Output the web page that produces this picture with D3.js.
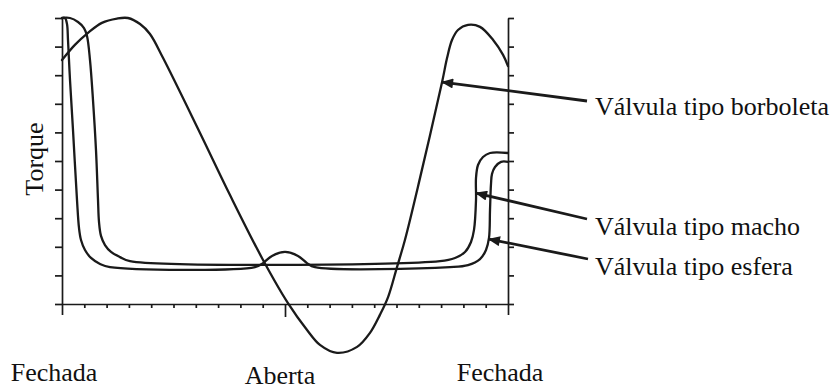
<!DOCTYPE html>
<html>
<head>
<meta charset="utf-8">
<script src="https://cdn.jsdelivr.net/npm/d3@7"></script>
<style>
  html, body { margin: 0; padding: 0; background: #fff; }
  svg { display: block; }
  text { font-family: "Liberation Serif", "Times New Roman", serif; fill: #111; }
</style>
</head>
<body>
<svg id="chart" width="838" height="390"></svg>
<script>
// Valve position: 0 = closed, 90 = fully open, 180 = closed again
const positionTicks = d3.range(0, 181, 9);
const positionLabels = ["Fechada", "Aberta", "Fechada"];
const positionLabelAngles = [0, 90, 180];
const torqueTicks = d3.range(0, 11, 1);

const seriesNames = ["Válvula tipo borboleta", "Válvula tipo macho", "Válvula tipo esfera"];

// Butterfly valve torque
const borboletaAngle  = [0, 5.2, 10.5, 16.1, 22.2, 26.6, 31.5, 35.5, 40.8, 55.7, 67.8, 80.7, 91.2, 98.9, 104.1, 111.0, 119.1, 124.3, 128.3, 131.6, 135.2, 138.4, 144.5, 153.4, 155.4, 157.4, 159.8, 163.9, 168.7, 174.0, 178.0, 180];
const borboletaTorque = [8.53, 9.06, 9.48, 9.83, 9.98, 10.0, 9.79, 9.44, 8.60, 5.98, 3.81, 1.61, 0.03, -0.91, -1.43, -1.71, -1.50, -1.01, -0.38, 0.24, 1.29, 2.24, 4.41, 7.76, 8.60, 9.23, 9.58, 9.76, 9.69, 9.23, 8.71, 8.32];

// Plug valve torque
const machoAngle  = [0, 3.23, 6.46, 8.88, 10.09, 11.30, 12.51, 13.72, 14.53, 14.93, 15.74, 17.35, 19.78, 23.41, 27.44, 152.56, 158.61, 162.65, 165.07, 166.28, 167.09, 167.09, 167.90, 169.91, 172.74, 180];
const machoTorque = [10.0, 10.0, 9.86, 9.65, 9.37, 8.53, 7.13, 5.38, 3.64, 2.87, 2.38, 2.06, 1.82, 1.64, 1.50, 1.50, 1.61, 1.82, 2.17, 2.59, 3.64, 4.41, 4.86, 5.14, 5.28, 5.28];

// Ball valve torque
const esferaAngle  = [0, 1.21, 2.02, 2.42, 3.23, 4.44, 6.05, 6.86, 7.67, 9.28, 11.70, 15.34, 19.37, 77.89, 81.12, 84.75, 90.0, 95.25, 98.88, 102.11, 156.59, 163.86, 168.70, 171.12, 172.33, 172.74, 173.14, 173.55, 174.76, 177.18, 180];
const esferaTorque = [10.0, 10.0, 9.79, 9.23, 7.83, 6.08, 3.64, 2.66, 2.24, 1.89, 1.61, 1.40, 1.29, 1.29, 1.43, 1.68, 1.82, 1.68, 1.43, 1.29, 1.29, 1.36, 1.57, 1.89, 2.31, 3.29, 4.20, 4.55, 4.79, 4.97, 4.97];

// Points on each curve where the callout arrows land
const calloutAngle  = [153.4, 167.1, 172.3];
const calloutTorque = [7.76, 3.88, 2.27];

const svg = d3.select("#chart");
const ink = "#1a1a1a";

const x = d3.scaleLinear().domain([0, 180]).range([62, 508]);
const y = d3.scaleLinear().domain([0, 10]).range([304, 18]);

// Arrowhead marker
svg.append("defs").append("marker")
  .attr("id", "arrow")
  .attr("viewBox", "0 0 12 10")
  .attr("refX", 11).attr("refY", 5)
  .attr("markerWidth", 14).attr("markerHeight", 10)
  .attr("markerUnits", "userSpaceOnUse")
  .attr("orient", "auto")
  .append("path").attr("d", "M0,0 L12,5 L0,10 Z").attr("fill", ink);

function styleAxis(g) {
  g.selectAll("path.domain").attr("stroke", ink).attr("stroke-width", 1.7);
  g.selectAll(".tick line").attr("stroke", ink).attr("stroke-width", 1.7);
  g.selectAll(".tick text").remove();
}

// Bottom axis, ticks pointing down; the ends and the centre run longer
const gx = svg.append("g").attr("transform", `translate(0,${y(0)})`)
  .call(d3.axisBottom(x).tickValues(positionTicks).tickSize(4).tickSizeOuter(0).tickFormat(""));
gx.selectAll(".tick line").attr("y2", d => (d === 0 || d === 180) ? 11 : (d === 90 ? 13 : 4));
styleAxis(gx);

// Left axis
const gl = svg.append("g").attr("transform", `translate(${x(0)},0)`)
  .call(d3.axisLeft(y).tickValues(torqueTicks).tickSize(7).tickSizeOuter(0).tickFormat(""));
styleAxis(gl);

// Right axis
const gr = svg.append("g").attr("transform", `translate(${x(180)},0)`)
  .call(d3.axisRight(y).tickValues(torqueTicks).tickSize(6).tickSizeOuter(0).tickFormat(""));
styleAxis(gr);

// Curves
const smooth = d3.line()
  .x(d => x(d[0])).y(d => y(d[1]))
  .curve(d3.curveCatmullRom.alpha(0.5));

const curves = [
  d3.zip(borboletaAngle, borboletaTorque),
  d3.zip(machoAngle, machoTorque),
  d3.zip(esferaAngle, esferaTorque)
];

svg.append("g").selectAll("path")
  .data(curves)
  .join("path")
  .attr("d", smooth)
  .attr("fill", "none")
  .attr("stroke", ink)
  .attr("stroke-width", 2.3)
  .attr("stroke-linejoin", "round")
  .attr("stroke-linecap", "round");

// Callouts
const labelX = 595;
const labelBaseline = [115, 235, 275];
const tailPoint = [[587, 101], [587, 219], [588, 259]];

const callouts = svg.append("g");
seriesNames.forEach((name, i) => {
  callouts.append("line")
    .attr("x1", tailPoint[i][0]).attr("y1", tailPoint[i][1])
    .attr("x2", x(calloutAngle[i])).attr("y2", y(calloutTorque[i]))
    .attr("stroke", ink).attr("stroke-width", 2.8)
    .attr("marker-end", "url(#arrow)");
  callouts.append("text")
    .attr("x", labelX).attr("y", labelBaseline[i])
    .attr("font-size", 26)
    .text(name);
});

// Position labels under the axis
const posOffset = [-8, -5, -8];
const posBaseline = [381, 384, 381];
svg.append("g").selectAll("text")
  .data(positionLabels)
  .join("text")
  .attr("x", (d, i) => x(positionLabelAngles[i]) + posOffset[i])
  .attr("y", (d, i) => posBaseline[i])
  .attr("text-anchor", "middle")
  .attr("font-size", 26)
  .text(d => d);

// Y title
svg.append("text")
  .attr("transform", "translate(43,159) rotate(-90)")
  .attr("text-anchor", "middle")
  .attr("font-size", 26)
  .text("Torque");
</script>
</body>
</html>
